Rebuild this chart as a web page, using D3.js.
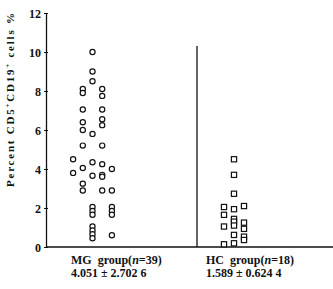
<!DOCTYPE html>
<html lang="en">
<head>
  <meta charset="UTF-8">
  <title>CD5+CD19+ cells</title>
  <style>
    body { margin: 0; background: white; }
    text { font-family: "Liberation Serif", "Times New Roman", serif; font-weight: bold; fill: #111; }
  </style>
</head>
<body>

  <svg id="svg" width="333" height="289"></svg>

  <script src="https://d3js.org/d3.v7.min.js"></script>
  <script>
    // MG group: column offset (jitter) and value
    const mgCol = [-2, -2,
      -1, -1, -1, -1, -1, -1, -1, -1, -1,
      0, 0, 0, 0, 0, 0, 0, 0, 0, 0, 0, 0, 0,
      1, 1, 1, 1, 1, 1, 1, 1, 1, 1,
      2, 2, 2, 2, 2, 2]
    const mgValues = [4.5, 3.8,
      8.1, 7.9, 7.05, 6.4, 6.0, 5.2, 4.05, 3.25, 2.9,
      10.0, 9.0, 8.5, 5.8, 4.35, 3.65, 2.05, 1.85, 1.65, 1.05, 0.85, 0.65, 0.45,
      8.1, 7.75, 7.05, 6.55, 6.25, 5.2, 4.25, 3.7, 3.6, 2.9,
      4.0, 2.9, 2.05, 1.85, 1.65, 0.6]

    // HC group
    const hcCol = [-1, -1, -1, -1,
      0, 0, 0, 0, 0, 0, 0, 0, 0,
      1, 1, 1, 1, 1]
    const hcValues = [2.05, 1.65, 1.05, 0.14,
      4.5, 3.7, 2.73, 1.94, 1.44, 1.3, 1.1, 0.62, 0.19,
      2.1, 1.25, 0.93, 0.53, 0.36]

    const groups = ['MG', 'HC']
    const yTicks = [0, 2, 4, 6, 8, 10, 12]

    const svg = d3.select('#svg')

    const yScale = d3.scaleLinear()
      .domain([0, 12])
      .range([247, 13])
    const groupScale = d3.scalePoint()
      .domain(groups)
      .range([92.5, 234])
    const colStep = 9.7

    // y axis
    const yAxis = d3.axisLeft(yScale)
      .tickValues(yTicks)
      .tickSize(0)
      .tickPadding(5)
    const ya = svg.append('g')
      .attr('transform', 'translate(46,0)')
      .call(yAxis)
    ya.select('.domain').attr('stroke', '#111').attr('stroke-width', 1.3)
    ya.selectAll('text').attr('font-size', 12).attr('dy', '0.4em')
      .style('font-family', '"Liberation Serif", serif').style('font-weight', 'bold')
    ya.selectAll('.tick').append('line')
      .attr('x1', -2).attr('x2', 2)
      .attr('stroke', '#111').attr('stroke-width', 1)

    // x axis line
    svg.append('line')
      .attr('x1', 46).attr('x2', 333)
      .attr('y1', yScale(0)).attr('y2', yScale(0))
      .attr('stroke', '#111').attr('stroke-width', 1.5)

    // divider
    svg.append('line')
      .attr('x1', 197).attr('x2', 197)
      .attr('y1', 46).attr('y2', yScale(0))
      .attr('stroke', '#111').attr('stroke-width', 1.3)

    // y label
    svg.append('text')
      .attr('transform', 'translate(14,100) rotate(-90)')
      .attr('text-anchor', 'middle')
      .attr('font-size', 11)
      .attr('textLength', 174)
      .attr('lengthAdjust', 'spacing')
      .html('Percent CD5<tspan dy="-4" font-size="7">+</tspan><tspan dy="4">CD19</tspan><tspan dy="-4" font-size="7">+</tspan><tspan dy="4"> cells %</tspan>')

    // MG circles
    svg.append('g').selectAll('circle')
      .data(mgValues)
      .enter()
      .append('circle')
      .attr('cx', (d, i) => groupScale('MG') + mgCol[i] * colStep)
      .attr('cy', d => yScale(d))
      .attr('r', 2.6)
      .attr('fill', 'white')
      .attr('stroke', '#111')
      .attr('stroke-width', 1.2)

    // HC squares
    svg.append('g').selectAll('rect')
      .data(hcValues)
      .enter()
      .append('rect')
      .attr('x', (d, i) => groupScale('HC') + hcCol[i] * 10 - 2.6)
      .attr('y', d => yScale(d) - 2.6)
      .attr('width', 5.2)
      .attr('height', 5.2)
      .attr('fill', 'white')
      .attr('stroke', '#111')
      .attr('stroke-width', 1.2)

    // group labels
    const labels = [
      { x: 71, l1: 'MG&#160;&#160;group(<tspan font-style="italic">n</tspan>=39)', l2: '4.051 ± 2.702 6' },
      { x: 206, l1: 'HC&#160;&#160;group(<tspan font-style="italic">n</tspan>=18)', l2: '1.589 ± 0.624 4' }
    ]
    labels.forEach(lb => {
      svg.append('text').attr('x', lb.x).attr('y', 264).attr('font-size', 12).html(lb.l1)
      svg.append('text').attr('x', lb.x).attr('y', 277).attr('font-size', 12).text(lb.l2)
    })
  </script>
</body>
</html>
